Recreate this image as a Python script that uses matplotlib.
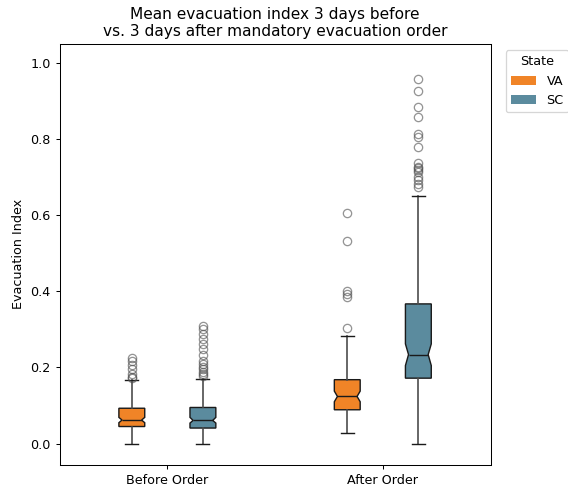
import matplotlib
matplotlib.use("Agg")
import matplotlib.pyplot as plt
from matplotlib.patches import Patch

# data
periods = ["Before Order", "After Order"]
states = ["VA", "SC"]
state_colors = ["#F08427", "#5B8B9E"]

# box stats per period, order: VA, SC
q1 = [[0.045, 0.041], [0.089, 0.172]]
median = [[0.062, 0.061], [0.124, 0.234]]
q3 = [[0.093, 0.095], [0.168, 0.367]]
whislo = [[0.0, 0.0], [0.028, 0.0]]
whishi = [[0.166, 0.171], [0.284, 0.650]]
notch_lo = [[0.055, 0.054], [0.110, 0.205]]
notch_hi = [[0.069, 0.069], [0.138, 0.262]]
outliers = [
    [[0.172, 0.176, 0.184, 0.195, 0.206, 0.217, 0.225],
     [0.177, 0.183, 0.189, 0.195, 0.202, 0.209, 0.218, 0.233, 0.248,
      0.263, 0.276, 0.288, 0.300, 0.308]],
    [[0.304, 0.385, 0.393, 0.400, 0.532, 0.605],
     [0.673, 0.683, 0.692, 0.701, 0.714, 0.718, 0.723, 0.727, 0.736,
      0.778, 0.805, 0.813, 0.857, 0.885, 0.925, 0.957]],
]

OFFSET = 0.165
WIDTH = 0.12

fig = plt.figure(figsize=(568 / 92, 487 / 92), dpi=92)
ax = fig.add_axes([0.105, 0.046, 0.7586, 0.864])

for i, period in enumerate(periods):
    for j, state in enumerate(states):
        stats = [{
            "q1": q1[i][j], "med": median[i][j], "q3": q3[i][j],
            "whislo": whislo[i][j], "whishi": whishi[i][j],
            "cilo": notch_lo[i][j], "cihi": notch_hi[i][j],
            "fliers": outliers[i][j],
        }]
        pos = i + (j - 0.5) * 2 * OFFSET
        art = ax.bxp(
            stats, positions=[pos], widths=WIDTH, shownotches=True,
            patch_artist=True, manage_ticks=False,
            boxprops=dict(facecolor=state_colors[j], edgecolor="0.1", linewidth=1.1),
            medianprops=dict(color="0.1", linewidth=1.1),
            whiskerprops=dict(color="0.3", linewidth=1.3),
            capprops=dict(color="0.1", linewidth=1.1),
            flierprops=dict(marker="o", markerfacecolor="none",
                            markeredgecolor="0.3", alpha=0.6, markersize=6.5),
        )
        # shallower notch than matplotlib's default
        box = art["boxes"][0]
        verts = box.get_path().vertices
        verts[3, 0] = pos + WIDTH * 0.38
        verts[8, 0] = pos - WIDTH * 0.38
        art["medians"][0].set_xdata([pos - WIDTH * 0.38, pos + WIDTH * 0.38])

ax.set_xlim(-0.5, 1.5)
ax.set_ylim(-0.055, 1.05)
ax.set_xticks(range(len(periods)))
ax.set_xticklabels(periods)
ax.set_yticks([0.0, 0.2, 0.4, 0.6, 0.8, 1.0])
ax.set_ylabel("Evacuation Index")
ax.set_title("Mean evacuation index 3 days before\nvs. 3 days after mandatory evacuation order")

handles = [Patch(facecolor=c, label=s) for s, c in zip(states, state_colors)]
ax.legend(handles=handles, title="State", loc="upper left", bbox_to_anchor=(1.02, 1))

fig.savefig("out.png", dpi=92)
